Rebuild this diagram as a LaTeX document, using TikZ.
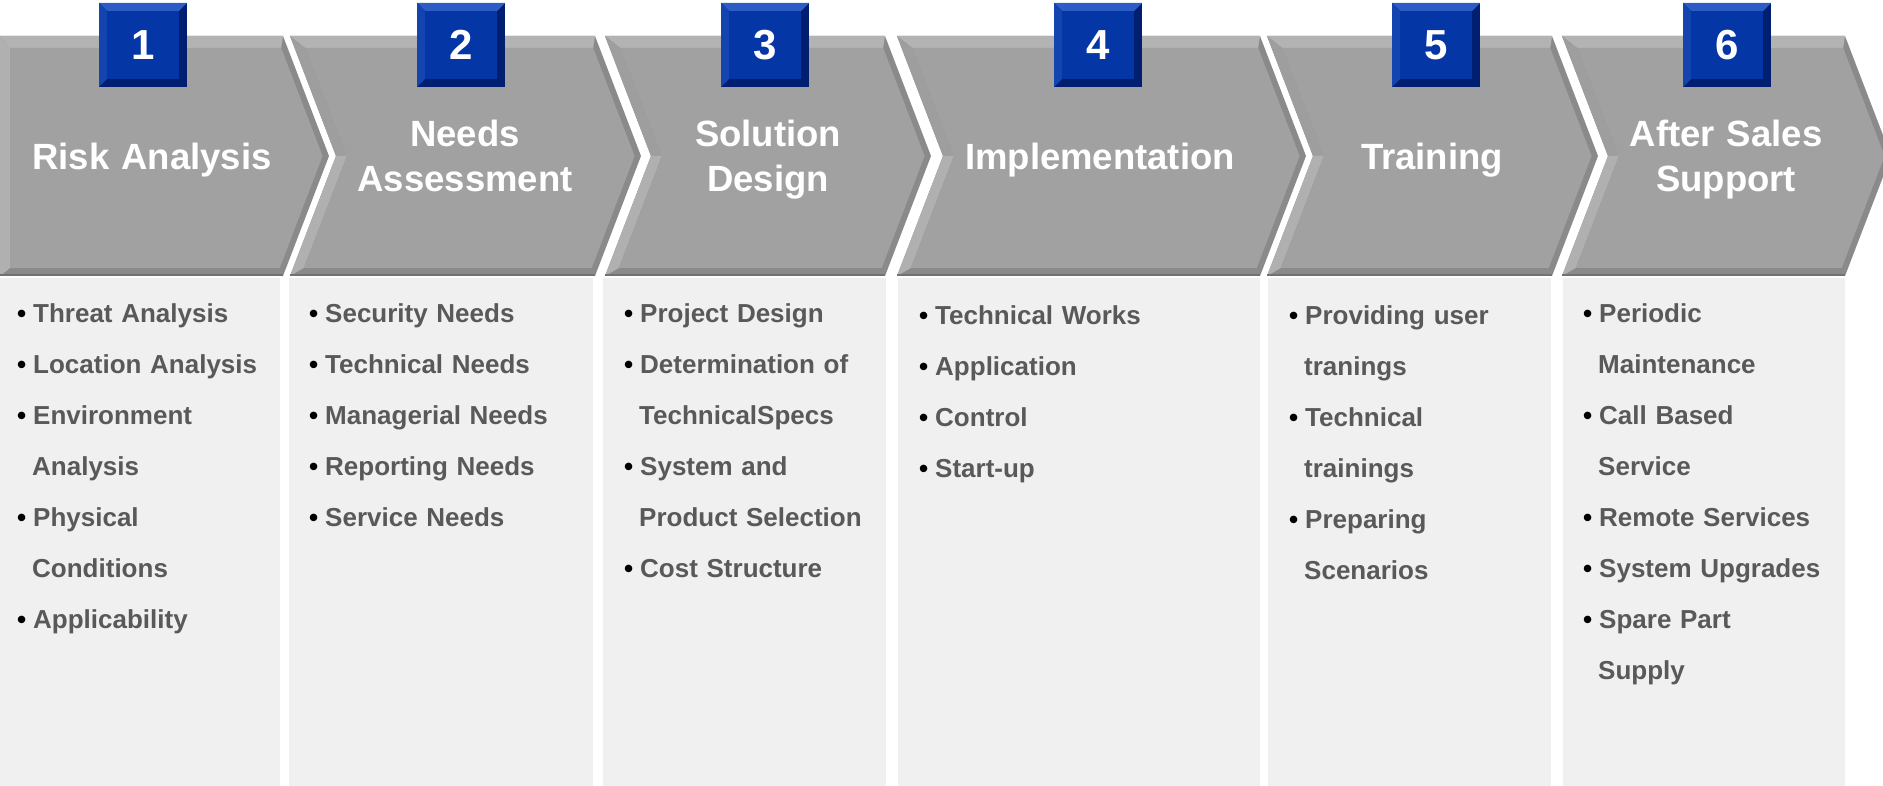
\documentclass[tikz,border=0pt]{standalone}
\usepackage{fontspec}
\setmainfont{Liberation Sans}
\definecolor{chevedge}{HTML}{8A8A8A}
\definecolor{chevtop}{HTML}{B3B3B3}
\definecolor{chevupper}{HTML}{9E9E9E}
\definecolor{chevlower}{HTML}{B0B0B0}
\definecolor{chevfill}{HTML}{A1A1A1}
\definecolor{chevline}{HTML}{727272}
\definecolor{panelgray}{HTML}{F0F0F0}
\definecolor{numblue}{HTML}{0536A5}
\definecolor{numdark}{HTML}{001F70}
\definecolor{numlight}{HTML}{2D5CC6}
\definecolor{numside}{HTML}{1444B0}
\definecolor{itemgray}{HTML}{595959}
\newcommand{\itm}{\makebox[16pt][l]{\color{black}\textbullet}}
\newcommand{\cnt}{\hspace*{15pt}}
\tikzset{
  numbox/.style={minimum width=88pt,minimum height=84pt,inner sep=0pt,fill=numdark,text=white,
    font=\fontsize{42}{42}\selectfont\bfseries,
    path picture={
      \coordinate (pnw) at (path picture bounding box.north west);
      \coordinate (pne) at (path picture bounding box.north east);
      \coordinate (psw) at (path picture bounding box.south west);
      \fill[numlight] (pnw) -- (pne) -- ([shift={(-8pt,-8pt)}]pne) -- ([shift={(8pt,-8pt)}]pnw) -- cycle;
      \fill[numside] (pnw) -- ([shift={(8pt,-8pt)}]pnw) -- ([shift={(8pt,8pt)}]psw) -- (psw) -- cycle;
      \fill[numblue] ([shift={(8pt,8pt)}]psw) rectangle ([shift={(-8pt,-8pt)}]pne);
    }},
  steptitle/.style={text=white,font=\fontsize{36.5}{45}\selectfont\bfseries,
    text width=330pt,align=center,anchor=base,inner sep=0pt},
  itemlist/.style={text=itemgray,font=\fontsize{26}{51}\selectfont\bfseries,
    text width=270pt,align=left,anchor=base west,inner sep=0pt}
}
\begin{document}
\begin{tikzpicture}[x=1pt,y=-1pt]
\useasboundingbox (0,0) rectangle (1883,786);
\clip (0,0) rectangle (1883,786);
% Paneles de fondo
\foreach \xa/\xb in {0/280, 289/593, 603/886, 898/1260, 1268/1551, 1563/1845}
        \fill[panelgray] (\xa,278) rectangle (\xb,786);
% Flechas (chevrons): borde, bisel superior, bisel izquierdo, interior
\foreach \xl/\xr/\n/\uc in {0/283/0/chevlower, 290/595/46/chevupper, 605/885/46/chevupper, 897/1260/46/chevupper, 1267/1552/46/chevupper, 1562/1845/46/chevupper}{
        \fill[chevedge] (\xl,36) -- (\xr,36) -- ({\xr+46},156) -- (\xr,276) -- (\xl,276) -- ({\xl+\n},156) -- cycle;
        \fill[chevtop] (\xl,36) -- (\xr,36) -- ({\xr-1.8},48) -- ({\xl+10+0.115*\n},48) -- cycle;
        \fill[\uc] (\xl,36) -- ({\xl+10+0.115*\n},48) -- ({\xl+10+1.02*\n},156) -- ({\xl+\n},156) -- cycle;
        \fill[chevlower] ({\xl+\n},156) -- ({\xl+10+1.02*\n},156) -- ({\xl+10+0.082*\n},268) -- (\xl,276) -- cycle;
        \fill[chevfill] ({\xl+10+0.115*\n},48) -- ({\xr-1.8},48) -- ({\xr+39.6},156) -- ({\xr-3.3},268) -- ({\xl+10+0.082*\n},268) -- ({\xl+10+1.02*\n},156) -- cycle;
        \draw[chevline,line width=2pt] (\xl,275) -- (\xr,275);
}
% Numeros
\node[numbox] (n1) at (143,45) {1};
\node[numbox] (n2) at (461,45) {2};
\node[numbox] (n3) at (765,45) {3};
\node[numbox] (n4) at (1098,45) {4};
\node[numbox] (n5) at (1436,45) {5};
\node[numbox] (n6) at (1727,45) {6};
% Titulos
\node[steptitle] (t1) at (152,170) {Risk Analysis};
\node[steptitle] (t2) at (465,147) {Needs\\Assessment};
\node[steptitle] (t3) at (768,147) {Solution\\Design};
\node[steptitle] (t4) at (1100,170) {Implementation};
\node[steptitle] (t5) at (1432,170) {Training};
\node[steptitle] (t6) at (1726,147) {After Sales\\Support};
% Listas
\node[itemlist] (l1) at (17,323) {\itm Threat Analysis\\ \itm Location Analysis\\ \itm Environment\\ \cnt Analysis\\ \itm Physical\\ \cnt Conditions\\ \itm Applicability};
\node[itemlist] (l2) at (309,323) {\itm Security Needs\\ \itm Technical Needs\\ \itm Managerial Needs\\ \itm Reporting Needs\\ \itm Service Needs};
\node[itemlist] (l3) at (624,323) {\itm Project Design\\ \itm Determination of\\ \cnt TechnicalSpecs\\ \itm System and\\ \cnt Product Selection\\ \itm Cost Structure};
\node[itemlist] (l4) at (919,325) {\itm Technical Works\\ \itm Application\\ \itm Control\\ \itm Start-up};
\node[itemlist] (l5) at (1289,325) {\itm Providing user\\ \cnt tranings\\ \itm Technical\\ \cnt trainings\\ \itm Preparing\\ \cnt Scenarios};
\node[itemlist] (l6) at (1583,323) {\itm Periodic\\ \cnt Maintenance\\ \itm Call Based\\ \cnt Service\\ \itm Remote Services\\ \itm System Upgrades\\ \itm Spare Part\\ \cnt Supply};
\end{tikzpicture}
\end{document}
